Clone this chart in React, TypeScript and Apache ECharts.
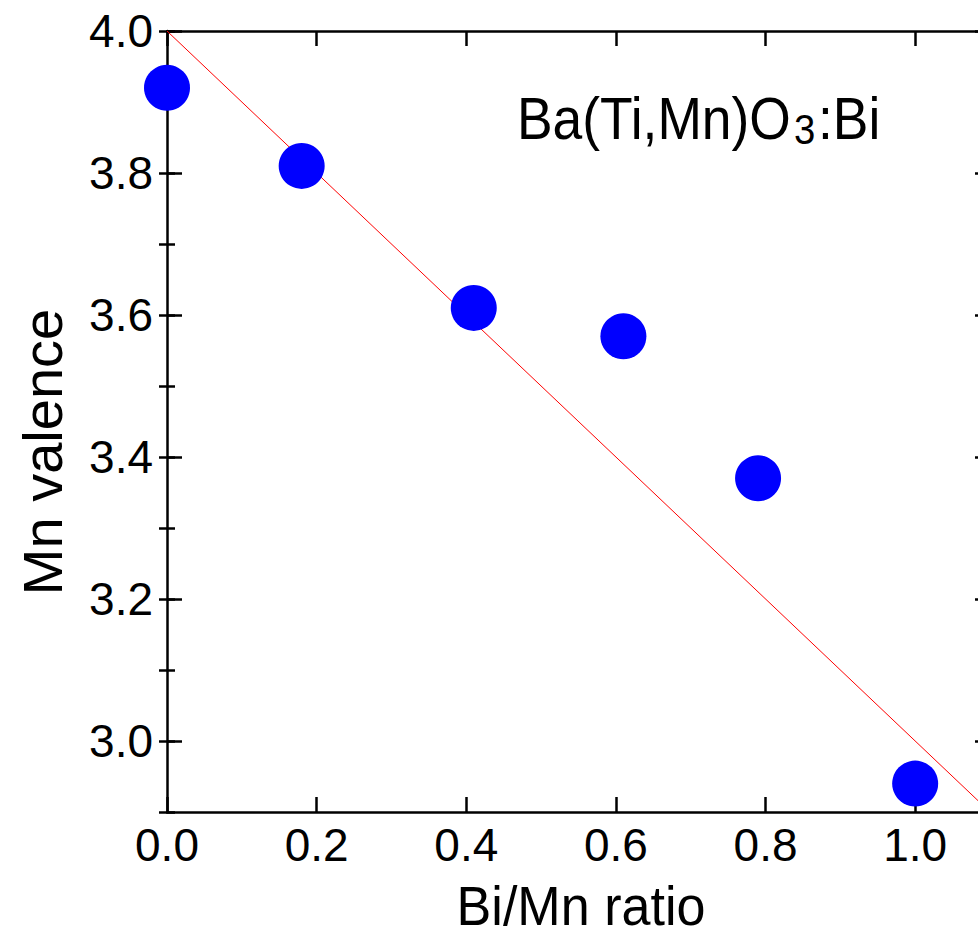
import React, { useEffect, useRef } from "react";
import * as echarts from "echarts";

const bimnRatio = [0, 0.18, 0.41, 0.61, 0.79, 1.0];
const mnValence = [3.92, 3.81, 3.61, 3.57, 3.37, 2.94];
const fitLineX = [0, 1.1];
const fitLineY = [4.0, 2.9];
const xTickValues = [0, 0.2, 0.4, 0.6, 0.8, 1.0];
const yTickValues = [3.0, 3.2, 3.4, 3.6, 3.8, 4.0];
const xTitle = "Bi/Mn ratio";
const yTitle = "Mn valence";

const FONT = "Arial, 'Liberation Sans', Helvetica, sans-serif";

export default function App() {
  const ref = useRef<HTMLDivElement>(null);

  useEffect(() => {
    if (!ref.current) return;
    const chart = echarts.init(ref.current, null, { renderer: "svg" });

    const lineStyle = { color: "#000", width: 2.5 };
    const majorTick = (vals: number[]) => ({
      show: true,
      inside: true,
      length: 15,
      customValues: vals,
      lineStyle: { color: "#000", width: 2.5 },
    });
    const grid = { left: 167, top: 31, width: 823, height: 781 };

    const option: any = {
      animation: false,
      backgroundColor: "#fff",
      grid,
      xAxis: [
        {
          type: "value",
          position: "bottom",
          min: 0,
          max: 1.1,
          axisLine: { show: true, onZero: false, lineStyle },
          axisTick: majorTick(xTickValues),
          splitLine: { show: false },
          axisLabel: {
            customValues: xTickValues,
            formatter: (v: number) => v.toFixed(1),
            fontSize: 46,
            fontFamily: FONT,
            color: "#000",
            margin: 10,
          },
        },
        {
          type: "value",
          position: "top",
          min: 0,
          max: 1.1,
          axisLine: { show: true, onZero: false, lineStyle },
          axisTick: majorTick(xTickValues),
          splitLine: { show: false },
          axisLabel: { show: false },
        },
      ],
      yAxis: [
        {
          type: "value",
          position: "left",
          min: 2.9,
          max: 4.0,
          axisLine: { show: true, onZero: false, lineStyle },
          axisTick: majorTick(yTickValues),
          splitLine: { show: false },
          axisLabel: {
            customValues: yTickValues,
            formatter: (v: number) => v.toFixed(1),
            fontSize: 46,
            fontFamily: FONT,
            color: "#000",
            margin: 14,
          },
        },
        {
          type: "value",
          position: "left",
          min: 2.9,
          max: 4.0,
          interval: 0.1,
          axisLine: { show: false },
          axisTick: {
            show: true,
            inside: true,
            length: 8,
            lineStyle: { color: "#000", width: 2.5 },
          },
          splitLine: { show: false },
          axisLabel: { show: false },
        },
        {
          type: "value",
          position: "right",
          min: 2.9,
          max: 4.0,
          axisLine: { show: true, onZero: false, lineStyle },
          axisTick: majorTick(yTickValues),
          splitLine: { show: false },
          axisLabel: { show: false },
        },
        {
          type: "value",
          position: "right",
          min: 2.9,
          max: 4.0,
          interval: 0.1,
          axisLine: { show: false },
          axisTick: {
            show: true,
            inside: true,
            length: 8,
            lineStyle: { color: "#000", width: 2.5 },
          },
          splitLine: { show: false },
          axisLabel: { show: false },
        },
      ],
      series: [
        {
          type: "line",
          xAxisIndex: 0,
          yAxisIndex: 0,
          data: fitLineX.map((x, i) => [x, fitLineY[i]]),
          showSymbol: false,
          symbol: "none",
          lineStyle: { color: "#FF0000", width: 1 },
          z: 1,
        },
        {
          type: "scatter",
          xAxisIndex: 0,
          yAxisIndex: 0,
          data: bimnRatio.map((x, i) => [x, mnValence[i]]),
          symbol: "circle",
          symbolSize: 46,
          itemStyle: { color: "#0000FF", opacity: 1 },
          z: 3,
        },
      ],
      graphic: [
        {
          type: "text",
          x: 581,
          y: 905,
          scaleX: 0.93,
          style: {
            text: xTitle,
            font: `56px ${FONT}`,
            fill: "#000",
            align: "center",
            verticalAlign: "middle",
          },
        },
        {
          type: "text",
          x: 42,
          y: 452,
          rotation: Math.PI / 2,
          style: {
            text: yTitle,
            font: `56px ${FONT}`,
            fill: "#000",
            align: "center",
            verticalAlign: "middle",
          },
        },
        {
          type: "text",
          x: 517,
          y: 118,
          scaleX: 0.89,
          style: {
            text: "Ba(Ti,Mn)O",
            font: `60px ${FONT}`,
            fill: "#000",
            align: "left",
            verticalAlign: "middle",
          },
        },
        {
          type: "text",
          x: 794,
          y: 129,
          scaleX: 0.89,
          style: {
            text: "3",
            font: `43px ${FONT}`,
            fill: "#000",
            align: "left",
            verticalAlign: "middle",
          },
        },
        {
          type: "text",
          x: 818,
          y: 118,
          scaleX: 0.89,
          style: {
            text: ":Bi",
            font: `60px ${FONT}`,
            fill: "#000",
            align: "left",
            verticalAlign: "middle",
          },
        },
      ],
    };

    chart.setOption(option);
    return () => chart.dispose();
  }, []);

  return (
    <div
      ref={ref}
      style={{
        position: "fixed",
        left: 0,
        top: 0,
        width: 1000,
        height: 935,
        background: "#fff",
      }}
    />
  );
}
